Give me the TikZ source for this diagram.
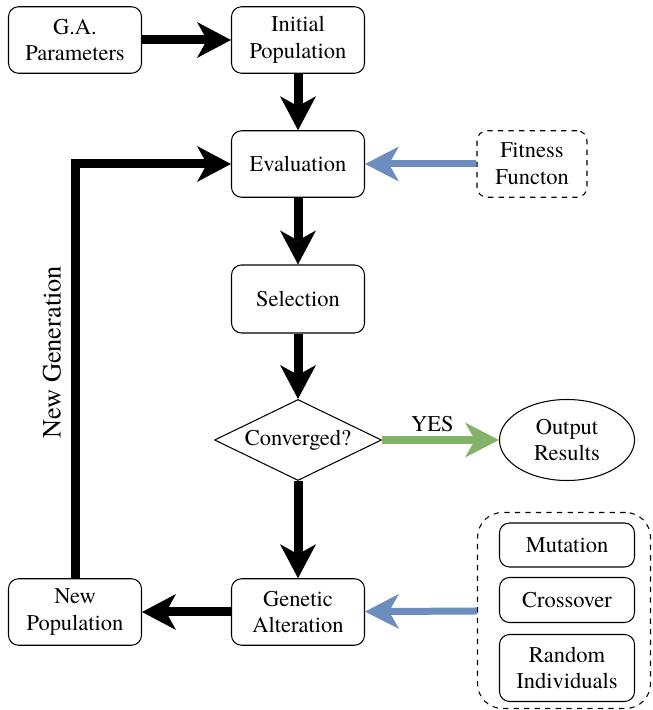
\documentclass[tikz,border=0pt]{standalone}
\usepackage{fontspec}
\setmainfont{texgyretermes}[Extension=.otf, UprightFont=*-regular, BoldFont=*-bold]
\usetikzlibrary{arrows.meta,shapes.geometric}
\definecolor{flowblue}{HTML}{6C8EBF}
\definecolor{flowgreen}{HTML}{82B366}
\tikzset{
    every node/.style={font=\fontsize{12.8}{15.2}\selectfont},
    box/.style={draw, rounded corners=0.2cm, align=center, line width=0.6pt,
        minimum width=2.66cm, minimum height=1.33cm},
    flow/.style={line width=0.18cm, -{Stealth[length=0.68cm, width=0.72cm, inset=0.2cm, line width=0pt]}},
    blueflow/.style={flowblue, line width=0.14cm, -{Stealth[length=0.68cm, width=0.7cm, inset=0.2cm, line width=0pt]}},
    greenflow/.style={flowgreen, line width=0.16cm, -{Stealth[length=0.68cm, width=0.7cm, inset=0.2cm, line width=0pt]}}
}
\begin{document}
\begin{tikzpicture}
    \useasboundingbox (0,0) rectangle (13.04,14.2);
    \node[box] (GA) at (1.5,13.4) {G.A. \\ Parameters};
    \node[box] (IP) at (5.96,13.4) {Initial \\ Population};
    \node[box] (Eval) at (5.96,10.92) {Evaluation};
    \node[box, dashed, minimum width=2.2cm] (FF) at (10.64,10.92) {Fitness \\ Functon};
    \node[box, minimum height=1.36cm] (Sel) at (5.96,8.22) {Selection};
    \node[draw, diamond, aspect=2.06, line width=0.6pt, inner sep=0pt, minimum width=3.34cm, minimum height=1.62cm] (Conv) at (5.96,5.4) {Converged?};
    \node[draw, ellipse, line width=0.6pt, inner sep=0pt, minimum width=2.7cm, minimum height=1.62cm, align=center] (Out) at (11.34,5.4) {Output \\ Results};
    \node[box] (GenAlt) at (5.96,1.96) {Genetic \\ Alteration};
    \node[box] (NP) at (1.5,1.96) {New \\ Population};

    \node[draw, dashed, rounded corners=0.5cm, line width=0.6pt, minimum width=3.46cm, minimum height=3.92cm] (Ops) at (11.28,1.99) {};
    \node[box, minimum width=2.7cm, minimum height=0.88cm] (Mut) at (11.34,3.3) {Mutation};
    \node[box, minimum width=2.7cm, minimum height=0.9cm] (Cross) at (11.34,2.2) {Crossover};
    \node[box, minimum width=2.7cm, minimum height=1.34cm] (Rand) at (11.34,0.84) {Random \\ Individuals};

    \draw[flow] (GA) -- (IP);
    \draw[flow] (IP) -- (Eval);
    \draw[flow] (Eval) -- (Sel);
    \draw[flow] (Sel) -- (Conv);
    \draw[flow] (Conv) -- (GenAlt);
    \draw[flow] (GenAlt) -- (NP);
    \draw[flow] (NP.north) |- (Eval.west);
    \draw[blueflow] (FF) -- (Eval);
    \draw[blueflow] (Ops) -- (GenAlt);
    \draw[greenflow] (Conv) -- (Out) node[pos=0.43, above=-1pt, text=black] {YES};

    \node[rotate=90, font=\fontsize{15}{18}\selectfont] (NG) at (1.04,7.16) {New Generation};
\end{tikzpicture}
\end{document}
